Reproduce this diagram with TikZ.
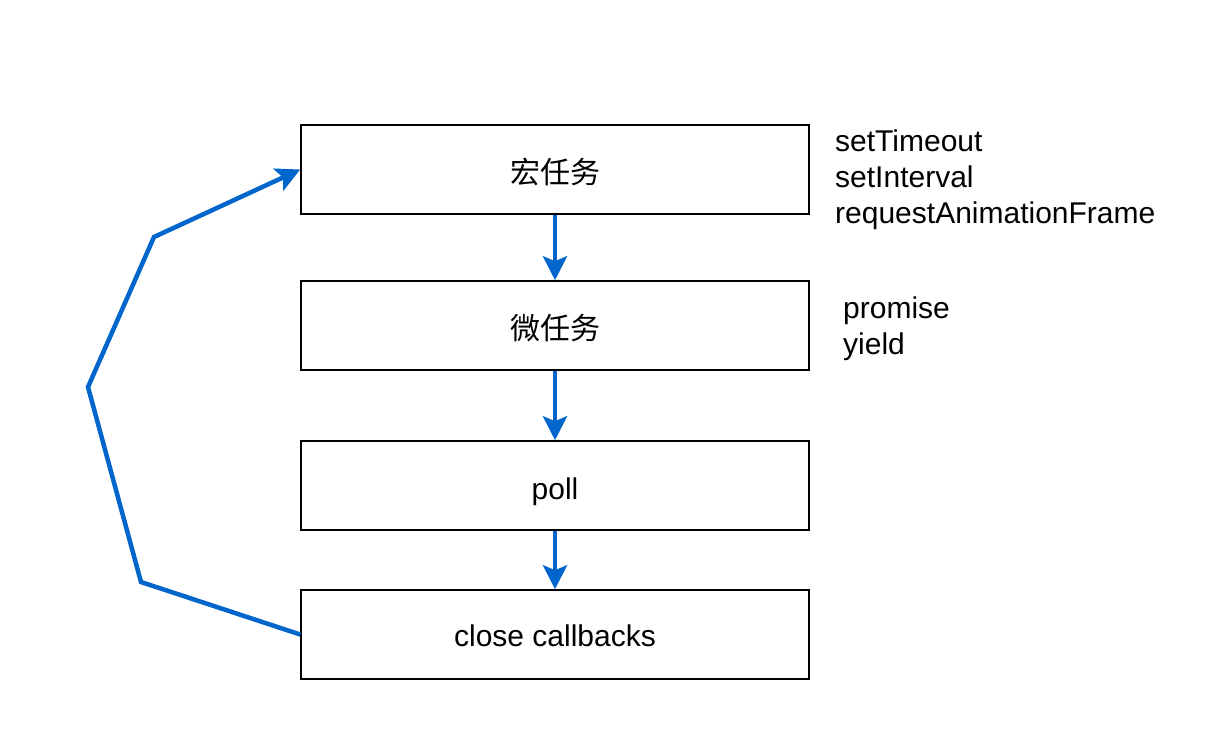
\documentclass[tikz,border=0pt]{standalone}
\usepackage{fontspec}
\setmainfont{Liberation Sans}
\newfontfamily\cjk{Noto Sans CJK SC}
\usetikzlibrary{arrows.meta}
\definecolor{flowblue}{HTML}{0066CC}
\begin{document}
\begin{tikzpicture}[x=1pt,y=-1pt,
  box/.style={draw=black, line width=1.5pt, minimum width=508pt, minimum height=89pt, inner sep=0pt, font=\fontsize{30}{36}\selectfont},
  lbl/.style={font=\fontsize{30}{36}\selectfont, inner sep=0pt},
  flow/.style={draw=flowblue, line width=4.5pt, line join=miter, -{Stealth[length=24pt,width=24pt,inset=5pt]}},
  side/.style={font=\fontsize{30}{36}\selectfont, align=left, inner sep=0pt, anchor=north west}]
\useasboundingbox (0,0) rectangle (1220,745);
\node[box] (b1) at (555,169.5) {};
\node[box] (b2) at (555,325.5) {};
\node[box] (b3) at (555,485.5) {};
\node[box] (b4) at (555,634.5) {};
\node[lbl] (l1) at (555,171.5) {\cjk 宏任务};
\node[lbl] (l2) at (555,328) {\cjk 微任务};
\node[lbl] (l3) at (555,492) {poll};
\node[lbl] (l4) at (555,636) {close callbacks};
\node[side] (t1) at (835,130) {setTimeout\\setInterval\\requestAnimationFrame};
\node[side] (t2) at (843,297) {promise\\yield};
\draw[flow] (b1.south) -- (b2.north);
\draw[flow] (b2.south) -- (b3.north);
\draw[flow] (b3.south) -- (b4.north);
\coordinate (c1) at (141,582);
\coordinate (c2) at (88,387);
\coordinate (c3) at (154,237);
\draw[flow] (b4.west) -- (c1) -- (c2) -- (c3) -- (b1.west);
\end{tikzpicture}
\end{document}
